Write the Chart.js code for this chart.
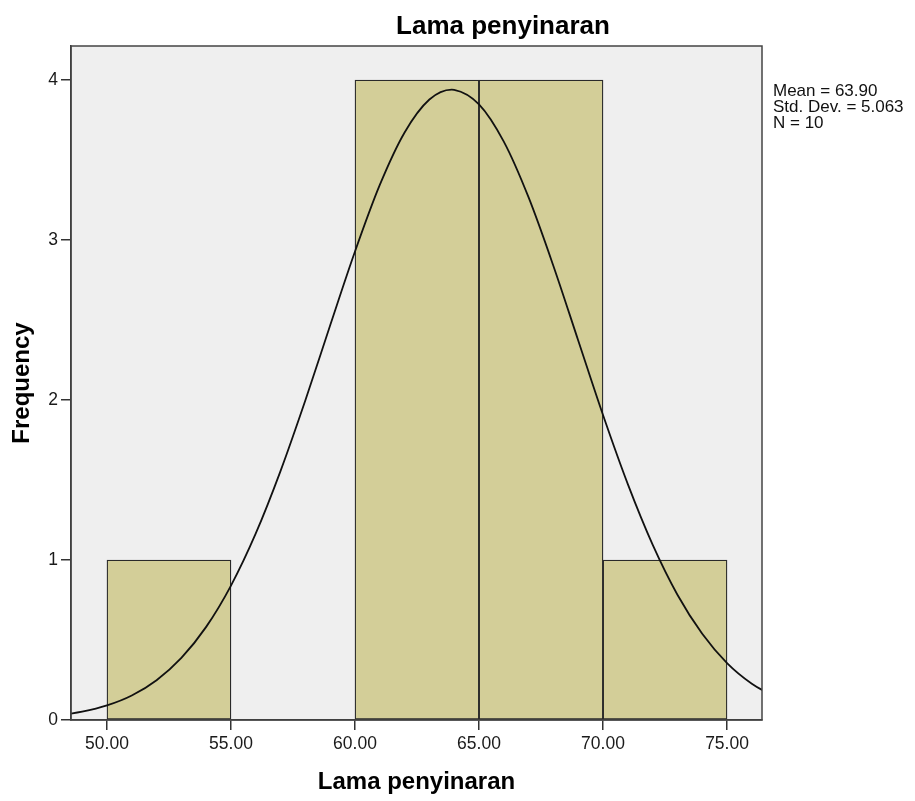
<!DOCTYPE html>
<html>
<head>
<meta charset="utf-8">
<script src="https://cdn.jsdelivr.net/npm/chart.js@4"></script>
<style>
html,body{margin:0;padding:0;background:#fff;}
#wrap{width:915px;height:801px;position:relative;}
</style>
</head>
<body>
<div id="wrap"><canvas id="c" width="915" height="801"></canvas></div>
<script>
// Histogram bins (centers) and frequencies
const binCenters = [52.5, 57.5, 62.5, 67.5, 72.5];
const frequencies = [1, 0, 4, 4, 1];
// Fitted normal curve (x, frequency)
const curveX = [48, 49, 50, 51, 52, 53, 54, 55, 56, 57, 58, 59, 60, 61, 62, 63, 63.9, 64, 65, 66, 67, 68, 69, 70, 71, 72, 73, 74, 75, 76, 77];
const curveY = [0.028, 0.052, 0.091, 0.153, 0.249, 0.388, 0.582, 0.840, 1.166, 1.557, 1.998, 2.467, 2.928, 3.344, 3.672, 3.878, 3.940, 3.939, 3.848, 3.615, 3.266, 2.838, 2.372, 1.906, 1.474, 1.096, 0.783, 0.539, 0.356, 0.227, 0.139];
const xTicks = [50, 55, 60, 65, 70, 75];
const yTicks = [0, 1, 2, 3, 4];
const statsLines = ["Mean = 63.90", "Std. Dev. = 5.063", "N = 10"];
const chartTitle = "Lama penyinaran";
const xTitle = "Lama penyinaran";
const yTitle = "Frequency";

const FONT = "'Liberation Sans', Arial, sans-serif";

const decor = {
  id: 'decor',
  beforeDraw(chart) {
    const {ctx, chartArea: a} = chart;
    ctx.save();
    ctx.fillStyle = '#EFEFEF';
    ctx.fillRect(a.left, a.top, a.right - a.left, a.bottom - a.top);
    ctx.restore();
  },
  afterDraw(chart) {
    const {ctx, chartArea: a} = chart;
    ctx.save();
    ctx.strokeStyle = '#444';
    ctx.lineWidth = 1.5;
    ctx.strokeRect(a.left, a.top, a.right - a.left, a.bottom - a.top);
    ctx.fillStyle = '#000';
    ctx.font = 'bold 26px ' + FONT;
    ctx.textAlign = 'center';
    ctx.textBaseline = 'alphabetic';
    ctx.fillText(chartTitle, 503, 34);
    ctx.font = '17px ' + FONT;
    ctx.textAlign = 'left';
    ctx.textBaseline = 'middle';
    ctx.fillStyle = '#111';
    statsLines.forEach((s, i) => ctx.fillText(s, a.right + 11, 91 + i * 16));
    ctx.restore();
  }
};

new Chart(document.getElementById('c'), {
  type: 'bar',
  data: {
    datasets: [
      {
        type: 'line',
        data: curveX.map((x, i) => ({x: x, y: curveY[i]})),
        borderColor: '#111',
        borderWidth: 1.8,
        pointRadius: 0,
        cubicInterpolationMode: 'monotone',
        fill: false,
        order: 0
      },
      {
        type: 'bar',
        data: binCenters.map((x, i) => ({x: x, y: frequencies[i]})),
        backgroundColor: '#D3CE98',
        borderColor: '#2a2a2a',
        borderWidth: 1.3,
        borderSkipped: false,
        barPercentage: 1,
        categoryPercentage: 1,
        order: 1
      }
    ]
  },
  options: {
    responsive: false,
    animation: false,
    layout: {padding: {left: 0, top: 46, right: 153, bottom: 0}},
    plugins: {legend: {display: false}, tooltip: {enabled: false}, title: {display: false}},
    scales: {
      x: {
        type: 'linear',
        offset: false,
        min: 48.55,
        max: 76.41,
        afterFit(s) { s.height = 81; },
        afterBuildTicks(s) { s.ticks = xTicks.map(v => ({value: v})); },
        grid: {offset: false, drawOnChartArea: false, drawTicks: true, tickLength: 10, color: '#333', lineWidth: 1.5},
        border: {display: true, color: '#333', width: 1.5},
        ticks: {
          font: {family: FONT, size: 17.5}, color: '#1a1a1a', padding: 4,
          maxRotation: 0, autoSkip: false,
          callback: v => Number(v).toFixed(2)
        },
        title: {display: true, text: xTitle, font: {family: FONT, size: 24, weight: 'bold'}, color: '#000', padding: {top: 0, bottom: 4}}
      },
      y: {
        type: 'linear',
        min: 0,
        max: 4.2125,
        afterFit(s) { s.width = 71; },
        afterBuildTicks(s) { s.ticks = yTicks.map(v => ({value: v})); },
        grid: {drawOnChartArea: false, drawTicks: true, tickLength: 10, color: '#333', lineWidth: 1.5},
        border: {display: true, color: '#333', width: 1.5},
        ticks: {font: {family: FONT, size: 17.5}, color: '#1a1a1a', padding: 3, callback: v => String(v)},
        title: {display: true, text: yTitle, font: {family: FONT, size: 24, weight: 'bold'}, color: '#000', padding: {top: 8, bottom: 0}}
      }
    }
  },
  plugins: [decor]
});
</script>
</body>
</html>
